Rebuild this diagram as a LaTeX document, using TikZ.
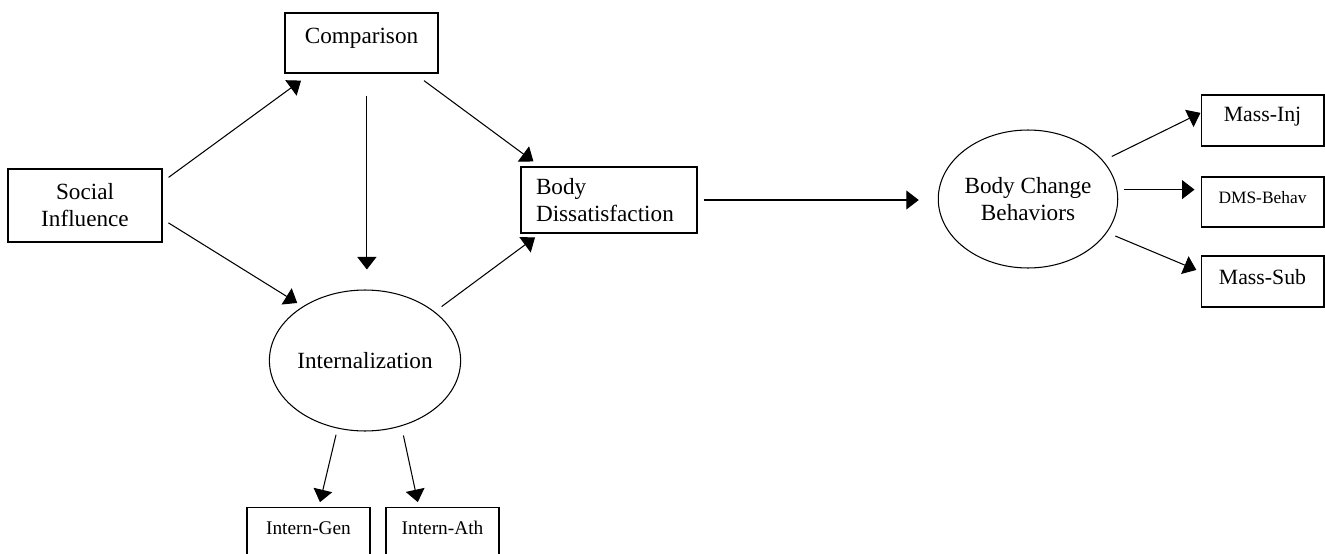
\documentclass[tikz,border=0pt]{standalone}
\usepackage{fontspec}
\setmainfont{Liberation Serif}
\usetikzlibrary{arrows.meta,shapes.geometric}
\newcommand{\nodefontbig}{\fontsize{13.2}{15.4}\selectfont}
\newcommand{\nodefontind}{\fontsize{12.4}{14}\selectfont}
\newcommand{\nodefontsml}{\fontsize{11}{13}\selectfont}
\tikzset{
  box/.style    = {draw,line width=0.6pt,inner sep=0pt,align=center,font=\nodefontbig},
  latent/.style = {draw,ellipse,line width=0.6pt,inner sep=0pt,align=center,
                   minimum width=3.16cm,font=\nodefontbig},
  ind/.style    = {box,minimum width=2.46cm,font=\nodefontind},
  arrow/.style  = {-{Triangle[length=0.25cm,width=0.38cm]},line width=0.6pt},
}
\begin{document}
\begin{tikzpicture}[x=0.02cm,y=-0.02cm]
  \path[use as bounding box,clip] (0,0) rectangle (1325,554);

  \node[box,minimum width=3.08cm,minimum height=1.46cm] (soc) at (85,205.5) {Social\\Influence};
  \node[box,minimum width=3.06cm,text height=0.62cm,text depth=0.58cm] (comp) at (361.5,43) {Comparison};
  \node[box,align=left,text width=2.92cm,inner xsep=0.3cm,minimum height=1.32cm] (bd) at (609,200)
    {Body\\Dissatisfaction};
  \node[latent,minimum height=2.82cm] (intz) at (365,360.5) {Internalization};
  \node[latent,minimum height=2.76cm] (bcb) at (1028,199) {Body Change\\Behaviors};

  \node[ind,text height=0.54cm,text depth=0.48cm] (minj) at (1262.5,120.5) {Mass-Inj};
  \node[ind,text height=0.52cm,text depth=0.48cm,font=\fontsize{9.9}{12}\selectfont] (dms) at (1262.5,202) {DMS-Behav};
  \node[ind,text height=0.56cm,text depth=0.46cm] (msub) at (1262.5,281.5) {Mass-Sub};

  \node[box,anchor=north,minimum width=2.46cm,text height=0.53cm,text depth=0.8cm,font=\nodefontsml] (igen) at (308.5,507) {Intern-Gen};
  \node[box,anchor=north,minimum width=2.26cm,text height=0.53cm,text depth=0.8cm,font=\nodefontsml] (iath) at (442.5,507) {Intern-Ath};

  \coordinate (cv) at (comp.-80);

  \draw[arrow,shorten <=0.15cm,shorten >=0.24cm] (soc.17) -- (comp.211);
  \draw[arrow,shorten <=0.14cm,shorten >=0.13cm] (soc.-10) -- (intz.139);
  \draw[arrow,shorten <=0.24cm,shorten >=0.17cm] (comp.-30) -- (bd.154);
  \draw[arrow,shorten <=0.44cm,shorten >=0.40cm] (cv) -- (cv |- intz.north);
  \draw[arrow,shorten <=0.17cm,shorten >=0.13cm] (intz.35) -- (bd.206);
  \draw[arrow,shorten <=0.12cm,shorten >=0.38cm] (bd.east) -- (bd.east -| bcb.west);
  \draw[arrow,shorten <=0.13cm,shorten >=0.10cm] (intz.248) -- (igen.73);
  \draw[arrow,shorten <=0.19cm,shorten >=0.10cm] (intz.-61) -- (iath.125);

  \draw[arrow,shorten <=0.19cm] (bcb.27) -- (minj.173);
  \draw[arrow,shorten <=0.13cm,shorten >=0.12cm] (bcb.6) -- (bcb.6 -| dms.west);
  \draw[arrow,shorten <=0.18cm,shorten >=0.09cm] (bcb.-23) -- (msub.171);
\end{tikzpicture}
\end{document}
